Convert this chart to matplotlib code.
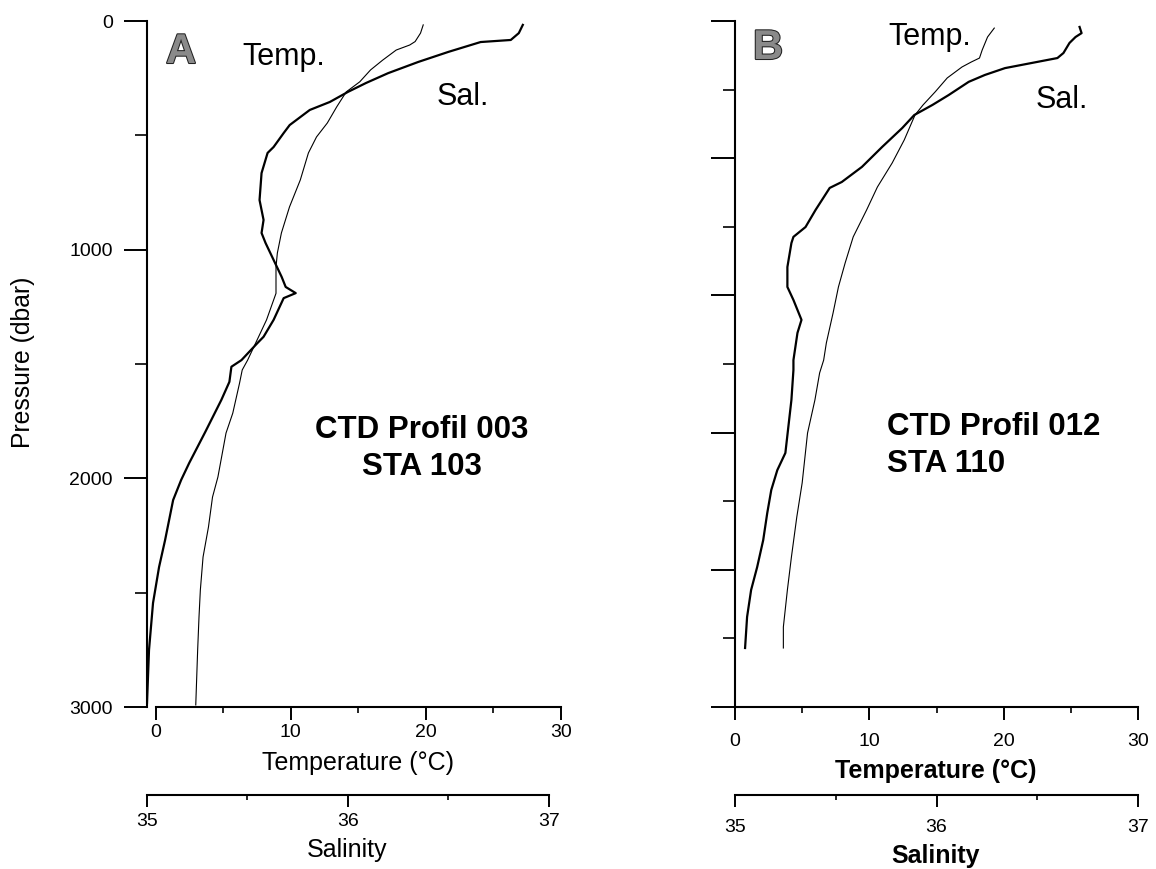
import matplotlib.pyplot as plt
import matplotlib.patheffects as pe

plt.rcParams['font.family'] = ['Liberation Sans', 'DejaVu Sans']

# --- profile A: CTD Profil 003, STA 103 ---
temp_a_p = [17, 53, 90, 105, 127, 171, 214, 266, 310, 375, 446, 507, 577, 695, 813,
            927, 1015, 1076, 1191, 1307, 1395, 1483, 1526, 1584, 1715, 1802, 1994,
            2082, 2213, 2344, 2488, 2606, 2751, 2991]
temp_a = [19.8, 19.6, 19.2, 18.8, 17.8, 16.8, 15.9, 15.1, 14.1, 13.4, 12.7, 11.9, 11.3,
          10.7, 9.9, 9.3, 9.0, 8.9, 8.9, 8.2, 7.5, 6.8, 6.4, 6.2, 5.7, 5.2, 4.6, 4.2,
          3.9, 3.5, 3.3, 3.2, 3.1, 2.96]
sal_a_p = [17, 53, 83, 92, 135, 179, 228, 271, 310, 354, 389, 455, 490, 551, 577, 665,
           783, 870, 927, 971, 1045, 1119, 1163, 1190, 1212, 1307, 1381, 1408, 1483,
           1512, 1578, 1657, 1797, 1933, 2007, 2095, 2270, 2388, 2545, 2751, 2983]
sal_a = [36.87, 36.85, 36.81, 36.66, 36.50, 36.35, 36.20, 36.09, 36.00, 35.91, 35.81,
         35.71, 35.68, 35.63, 35.60, 35.57, 35.56, 35.58, 35.57, 35.59, 35.63, 35.67,
         35.69, 35.74, 35.68, 35.63, 35.58, 35.55, 35.47, 35.42, 35.41, 35.37, 35.29,
         35.21, 35.17, 35.13, 35.09, 35.06, 35.03, 35.01, 35.00]

# --- profile B: CTD Profil 012, STA 110 ---
temp_b_p = [31, 70, 127, 162, 179, 201, 249, 310, 367, 411, 520, 621, 726, 826, 944,
            1058, 1163, 1277, 1408, 1483, 1539, 1657, 1802, 2020, 2169, 2344, 2488,
            2650, 2742]
temp_b = [19.3, 18.8, 18.4, 18.2, 17.6, 16.9, 15.8, 14.9, 14.0, 13.4, 12.6, 11.7, 10.6,
          9.8, 8.8, 8.2, 7.7, 7.3, 6.8, 6.6, 6.3, 5.95, 5.4, 5.0, 4.6, 4.2, 3.9, 3.6, 3.6]
sal_b_p = [26, 53, 70, 96, 140, 162, 184, 206, 236, 266, 324, 367, 411, 468, 551, 638,
           704, 730, 826, 901, 944, 971, 1076, 1163, 1220, 1307, 1364, 1483, 1526, 1657,
           1889, 1964, 2051, 2152, 2270, 2388, 2488, 2606, 2742]
sal_b = [36.71, 36.72, 36.69, 36.66, 36.63, 36.60, 36.47, 36.34, 36.24, 36.16, 36.06,
         35.98, 35.89, 35.83, 35.73, 35.63, 35.53, 35.47, 35.40, 35.35, 35.29, 35.28,
         35.26, 35.26, 35.29, 35.33, 35.31, 35.29, 35.29, 35.28, 35.25, 35.21, 35.18,
         35.16, 35.14, 35.11, 35.08, 35.06, 35.05]

temp_ticks = [0, 10, 20, 30]
temp_minor = [5, 15, 25]
sal_ticks = [35, 36, 37]
sal_minor = [35.5, 36.5]

W, H = 1156, 869


def fx(px):
    return px / W


def fy(py):
    return 1 - py / H


def make_panel(fig, left, right, tlim, slim, bold_labels):
    """One profile panel: temperature on the main x axis, salinity on a twin
    axis drawn further down."""
    ax = fig.add_axes([fx(left), fy(707), fx(right) - fx(left), fy(21) - fy(707)])
    ax.set_xlim(*tlim)
    ax.set_ylim(3000, 0)
    for s in ['top', 'right']:
        ax.spines[s].set_visible(False)
    for s in ['left', 'bottom']:
        ax.spines[s].set_linewidth(1.5)
    ax.spines['bottom'].set_bounds(0, 30)
    ax.set_xticks(temp_ticks)
    ax.set_xticks(temp_minor, minor=True)
    ax.tick_params(axis='x', which='major', length=9.5, width=1.4, labelsize=14,
                   pad=2.5 if not bold_labels else 9)
    ax.tick_params(axis='x', which='minor', length=4.5, width=1.2)
    ax.tick_params(axis='y', which='major', length=16.5, width=1.4, labelsize=14, pad=8)
    ax.tick_params(axis='y', which='minor', length=8.6, width=1.2)

    axs = ax.twiny()
    axs.set_xlim(*slim)
    for s in ['top', 'right', 'left']:
        axs.spines[s].set_visible(False)
    axs.xaxis.set_ticks_position('bottom')
    axs.xaxis.set_label_position('bottom')
    axs.spines['bottom'].set_visible(True)
    axs.spines['bottom'].set_linewidth(1.5)
    axs.spines['bottom'].set_position(('outward', 63.5))
    axs.spines['bottom'].set_bounds(35, 37)
    axs.set_xticks(sal_ticks)
    axs.set_xticks(sal_minor, minor=True)
    axs.tick_params(axis='x', which='major', length=8.6, width=1.4, labelsize=14,
                    pad=4 if not bold_labels else 8.5)
    axs.tick_params(axis='x', which='minor', length=3.8, width=1.2)
    return ax, axs


def main():
    fig = plt.figure(figsize=(W / 100, H / 100), dpi=100)

    # Panel A
    ax_a, axs_a = make_panel(fig, 147, 561, (-0.65, 30), (35.005, 37.06), False)
    ax_a.set_yticks([0, 1000, 2000, 3000])
    ax_a.set_yticks([500, 1500, 2500], minor=True)
    ax_a.plot(temp_a, temp_a_p, color='k', lw=0.8)
    axs_a.plot(sal_a, sal_a_p, color='k', lw=1.6)

    # Panel B (no pressure labels)
    ax_b, axs_b = make_panel(fig, 735, 1138, (0, 30), (35, 37), True)
    ax_b.set_yticks(range(0, 3001, 600))
    ax_b.set_yticks(range(300, 3000, 600), minor=True)
    ax_b.tick_params(axis='y', which='major', length=17)
    ax_b.tick_params(axis='y', labelleft=False)
    ax_b.plot(temp_b, temp_b_p, color='k', lw=0.8)
    axs_b.plot(sal_b, sal_b_p, color='k', lw=1.6)

    # axis titles
    fig.text(fx(23), fy(362), 'Pressure (dbar)', rotation=90, ha='center', va='center',
             fontsize=17.8)
    fig.text(fx(358), fy(770), 'Temperature (°C)', ha='center', va='baseline', fontsize=18)
    fig.text(fx(347), fy(857), 'Salinity', ha='center', va='baseline', fontsize=18)
    fig.text(fx(936), fy(778), 'Temperature (°C)', ha='center', va='baseline',
             fontsize=18, fontweight='bold')
    fig.text(fx(936), fy(863), 'Salinity', ha='center', va='baseline', fontsize=18,
             fontweight='bold')

    # panel letters and annotations
    outline = [pe.withStroke(linewidth=1.5, foreground='#222222')]
    for letter, x, y in [('A', 181, 63), ('B', 768, 59)]:
        t = fig.text(fx(x), fy(y), letter, ha='center', va='baseline', fontsize=30,
                     fontweight='bold', color='#8a8a8a')
        t.set_path_effects(outline)

    fig.text(fx(284), fy(65), 'Temp.', ha='center', va='baseline', fontsize=22)
    fig.text(fx(463), fy(105), 'Sal.', ha='center', va='baseline', fontsize=22)
    fig.text(fx(930), fy(45), 'Temp.', ha='center', va='baseline', fontsize=22)
    fig.text(fx(1062), fy(108), 'Sal.', ha='center', va='baseline', fontsize=22)

    fig.text(fx(422), fy(438), 'CTD Profil 003', ha='center', va='baseline',
             fontsize=22.5, fontweight='bold')
    fig.text(fx(422), fy(475), 'STA 103', ha='center', va='baseline',
             fontsize=22.5, fontweight='bold')
    fig.text(fx(887), fy(435), 'CTD Profil 012', ha='left', va='baseline',
             fontsize=22.5, fontweight='bold')
    fig.text(fx(887), fy(472), 'STA 110', ha='left', va='baseline',
             fontsize=22.5, fontweight='bold')

    fig.savefig('out.png', dpi=100)


if __name__ == '__main__':
    main()
